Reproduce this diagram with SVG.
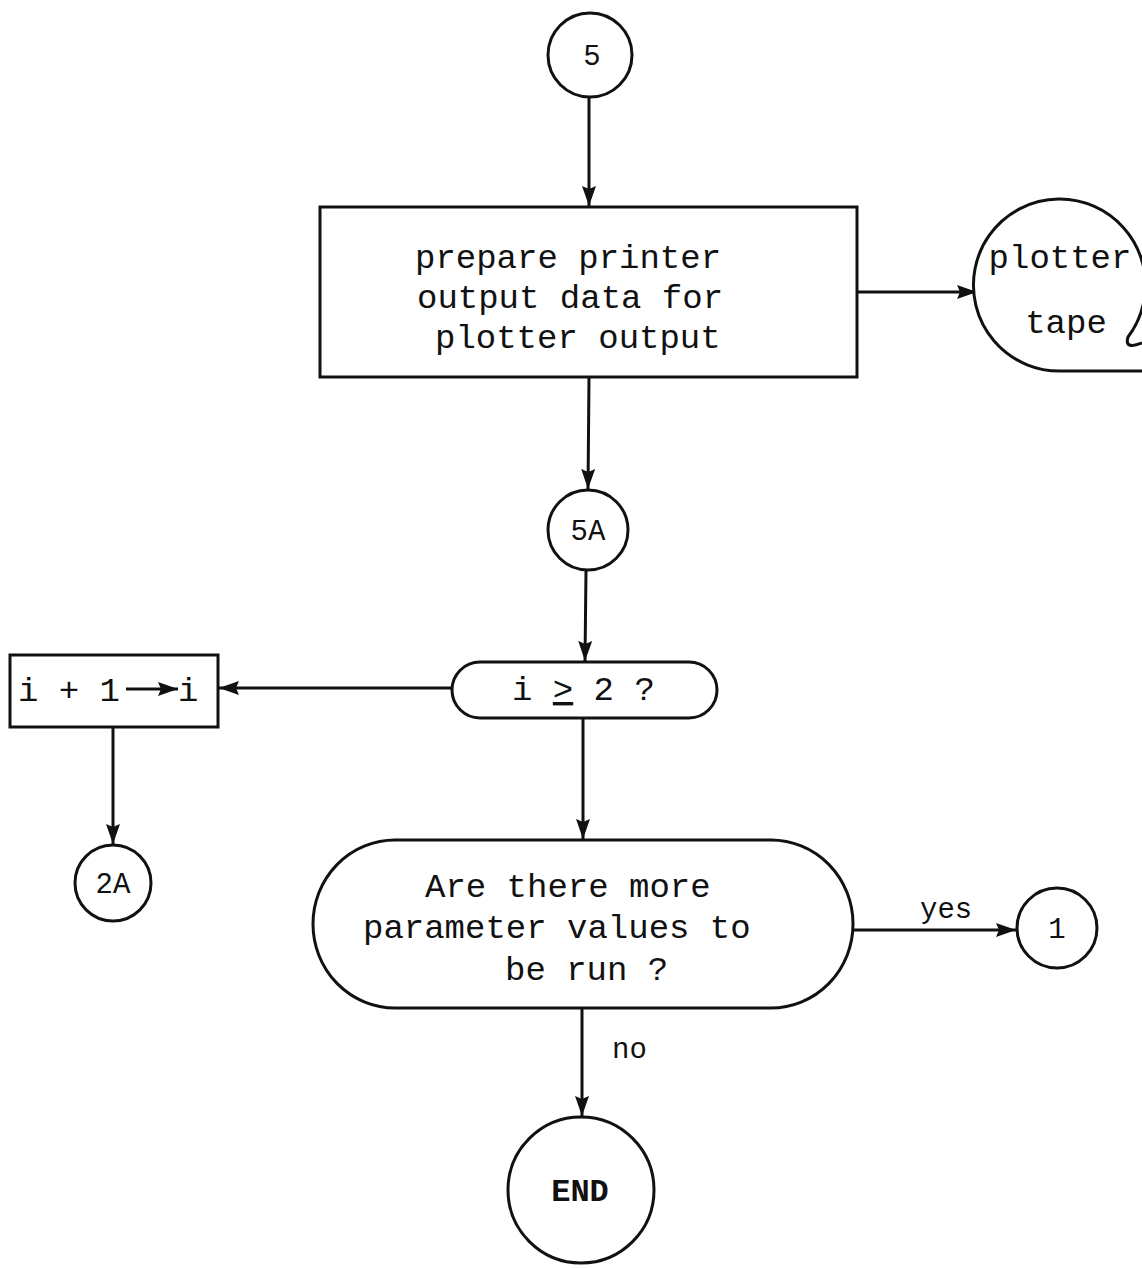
<svg xmlns="http://www.w3.org/2000/svg" width="1142" height="1268" viewBox="0 0 1142 1268">
<style>
.s{fill:none;stroke:#111;stroke-width:3}
.n{fill:#fff;stroke:#111;stroke-width:3}
.t{font-family:"Liberation Mono","DejaVu Sans Mono",monospace;font-size:34px;fill:#111}
.sm{font-family:"Liberation Mono","DejaVu Sans Mono",monospace;font-size:29px;fill:#111}
.b{font-family:"Liberation Mono","DejaVu Sans Mono",monospace;font-size:32px;font-weight:bold;fill:#111}
.c{text-anchor:middle}
</style>
<defs>
<marker id="ah" markerUnits="userSpaceOnUse" markerWidth="22" markerHeight="16" refX="20" refY="8" orient="auto">
<path d="M0,1 L20,8 L0,15 L3,8 Z" fill="#111"/>
</marker>
</defs>
<rect width="1142" height="1268" fill="#fff"/>
<g id="connectors" class="s">
<line x1="589" y1="97" x2="589" y2="206" marker-end="url(#ah)"/>
<line x1="857" y1="292" x2="977" y2="292" marker-end="url(#ah)"/>
<line x1="589" y1="377" x2="588" y2="489" marker-end="url(#ah)"/>
<line x1="586" y1="571" x2="585" y2="661" marker-end="url(#ah)"/>
<line x1="452" y1="688" x2="219" y2="688" marker-end="url(#ah)"/>
<line x1="113" y1="727" x2="113" y2="844" marker-end="url(#ah)"/>
<line x1="583" y1="718" x2="583" y2="839" marker-end="url(#ah)"/>
<line x1="853" y1="930" x2="1016" y2="930" marker-end="url(#ah)"/>
<line x1="582" y1="1008" x2="582" y2="1116" marker-end="url(#ah)"/>
<text class="sm" x="920" y="918" stroke="none">yes</text>
<text class="sm" x="612" y="1058" stroke="none">no</text>
</g>
<g id="n5">
<circle class="n" cx="590" cy="55" r="42"/>
<text class="sm c" x="592" y="65">5</text>
</g>
<g id="prepare">
<rect class="n" x="320" y="207" width="537" height="170"/>
<text class="t" x="415" y="268">prepare printer</text>
<text class="t" x="417" y="308">output data for</text>
<text class="t" x="435" y="348">plotter output</text>
</g>
<g id="plottertape">
<path class="n" d="M1142,343 Q1124,350 1128,337 A86,86 0 1 0 1063,371 L1142,371"/>
<text class="t c" x="1060" y="268">plotter</text>
<text class="t c" x="1066" y="333">tape</text>
</g>
<g id="n5A">
<circle class="n" cx="588" cy="530" r="40"/>
<text class="sm c" x="588" y="540">5A</text>
</g>
<g id="cond">
<rect class="n" x="452" y="662" width="265" height="56" rx="28" ry="28"/>
<text class="t" x="512" y="700">i <tspan text-decoration="underline">&gt;</tspan> 2 ?</text>
</g>
<g id="incr">
<rect class="n" x="10" y="655" width="208" height="72"/>
<text class="t" x="18" y="701">i + 1</text>
<line class="s" x1="126" y1="689" x2="178" y2="689" marker-end="url(#ah)"/>
<text class="t" x="178" y="701">i</text>
</g>
<g id="n2A">
<circle class="n" cx="113" cy="883" r="38"/>
<text class="sm c" x="113" y="893">2A</text>
</g>
<g id="more">
<rect class="n" x="313" y="840" width="540" height="168" rx="82" ry="84"/>
<text class="t" x="425" y="897">Are there more</text>
<text class="t" x="363" y="938">parameter values to</text>
<text class="t" x="505" y="980">be run ?</text>
</g>
<g id="n1">
<circle class="n" cx="1057" cy="928" r="40"/>
<text class="sm c" x="1057" y="938">1</text>
</g>
<g id="end">
<circle class="n" cx="581" cy="1190" r="73"/>
<text class="b c" x="580" y="1201">END</text>
</g>
</svg>
